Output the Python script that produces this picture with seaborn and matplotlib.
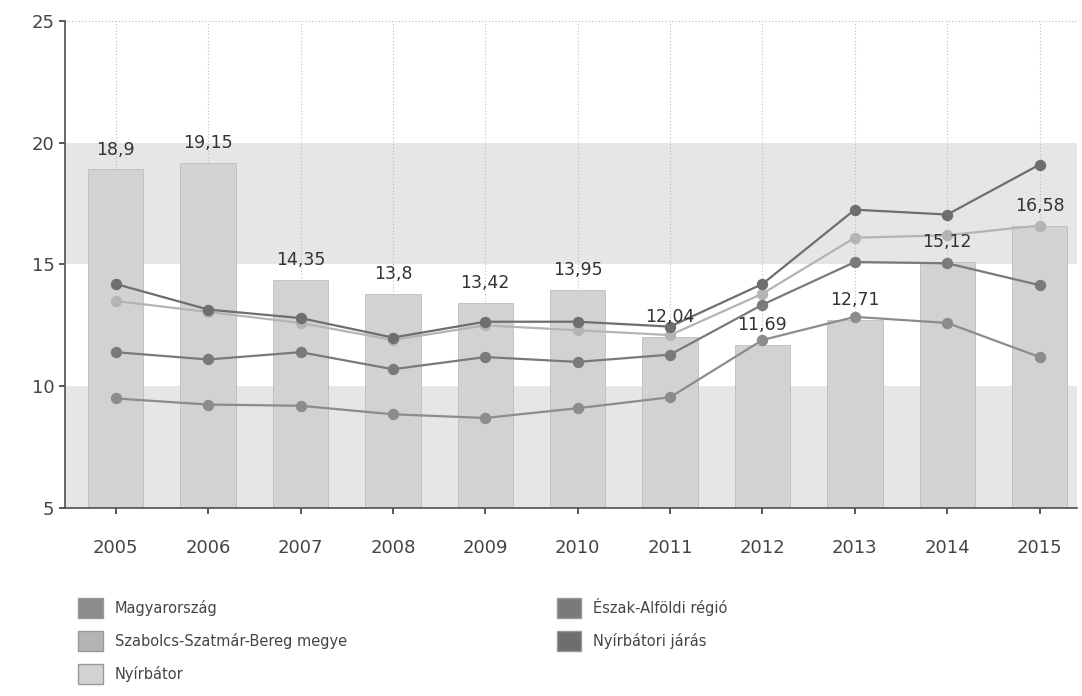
import matplotlib
matplotlib.use("Agg")
import matplotlib.pyplot as plt
import matplotlib.patches as mpatches
import seaborn as sns
import pandas as pd

years = ["2005", "2006", "2007", "2008", "2009", "2010", "2011", "2012", "2013", "2014", "2015"]
nyirbator = [18.9, 19.15, 14.35, 13.8, 13.42, 13.95, 12.04, 11.69, 12.71, 15.12, 16.58]
magyarorszag = [9.5, 9.25, 9.2, 8.85, 8.7, 9.1, 9.55, 11.9, 12.85, 12.6, 11.2]
eszak_alfold = [11.4, 11.1, 11.4, 10.7, 11.2, 11.0, 11.3, 13.35, 15.1, 15.05, 14.15]
szabolcs = [13.5, 13.05, 12.6, 11.9, 12.5, 12.3, 12.1, 13.8, 16.1, 16.2, 16.6]
jaras = [14.2, 13.15, 12.8, 12.0, 12.65, 12.65, 12.45, 14.2, 17.25, 17.05, 19.1]
bar_labels = ["18,9", "19,15", "14,35", "13,8", "13,42", "13,95", "12,04", "11,69", "12,71", "15,12", "16,58"]

series_names = ["Magyarország", "Szabolcs-Szatmár-Bereg megye", "Nyírbátor",
                "Észak-Alföldi régió", "Nyírbátori járás"]
colors = {"Magyarország": "#8c8c8c", "Szabolcs-Szatmár-Bereg megye": "#b4b4b4",
          "Nyírbátor": "#d2d2d2", "Észak-Alföldi régió": "#7a7a7a",
          "Nyírbátori járás": "#6e6e6e"}

sns.set_theme(style="white")
plt.rcParams['font.family'] = ['DejaVu Sans']

fig = plt.figure(figsize=(10.82, 6.96), dpi=100)
ax = fig.add_axes([0.06, 0.27, 0.935, 0.70])

# alternating bands
for lo, hi in [(5, 10), (15, 20)]:
    ax.axhspan(lo, hi, color="#e6e6e6", zorder=0, lw=0)

bar_df = pd.DataFrame({"year": years, "value": nyirbator})
sns.barplot(data=bar_df, x="year", y="value", color=colors["Nyírbátor"],
            width=0.6, ax=ax, zorder=2, saturation=1, edgecolor="#bdbdbd", linewidth=0.6)

for i, (v, lab) in enumerate(zip(nyirbator, bar_labels)):
    ax.text(i, v + 0.45, lab, ha="center", va="bottom", fontsize=12.5, color="#333333", zorder=6)

line_data = [("Szabolcs-Szatmár-Bereg megye", szabolcs),
             ("Magyarország", magyarorszag),
             ("Észak-Alföldi régió", eszak_alfold),
             ("Nyírbátori járás", jaras)]
for name, vals in line_data:
    df = pd.DataFrame({"year": years, "value": vals})
    sns.pointplot(data=df, x="year", y="value", color=colors[name], ax=ax,
                  markers="o", markersize=7, linewidth=1.6, zorder=4)

ax.set_ylim(5, 25)
ax.set_xlim(-0.55, 10.4)
ax.set_yticks([5, 10, 15, 20, 25])
ax.set_xlabel("")
ax.set_ylabel("")
ax.tick_params(axis="both", labelsize=13, colors="#444444", length=4, left=True, bottom=True)
ax.tick_params(axis="x", pad=18)
for i in range(len(years)):
    ax.axvline(i, color="#bbbbbb", lw=0.8, ls=(0, (1, 2)), zorder=1)
ax.axhline(25, color="#bbbbbb", lw=0.8, ls=(0, (1, 2)), zorder=1)
for s in ["top", "right"]:
    ax.spines[s].set_visible(False)
ax.spines["left"].set_color("#555555")
ax.spines["bottom"].set_color("#555555")

handles = [mpatches.Patch(facecolor=colors[n], edgecolor="#999999", label=n) for n in series_names]
fig.legend(handles=handles, loc="upper left", bbox_to_anchor=(0.06, 0.16), ncol=2,
           frameon=False, fontsize=10.5, handlelength=1.7, handleheight=1.8,
           columnspacing=14.4, labelspacing=0.85, labelcolor="#444444")

fig.savefig("out.png", dpi=100)
